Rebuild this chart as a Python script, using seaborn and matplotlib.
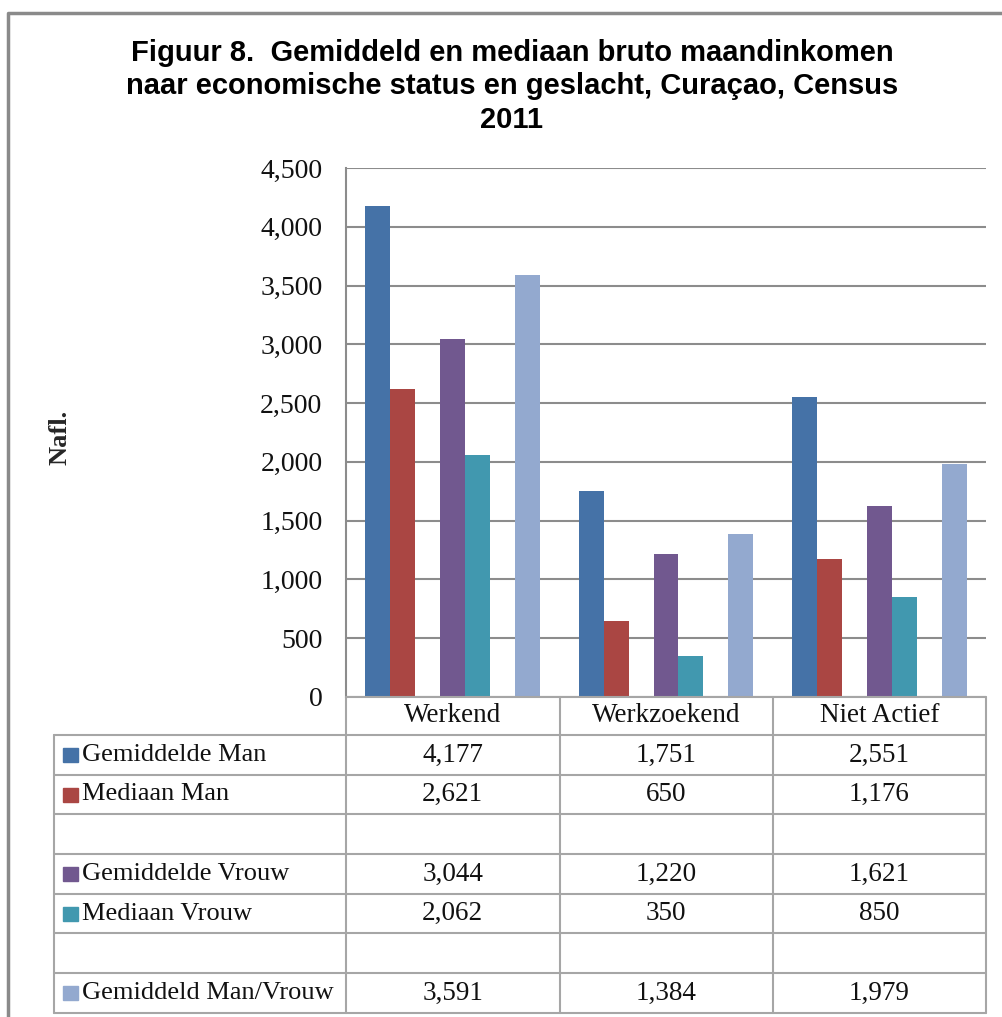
import matplotlib
matplotlib.use("Agg")
import matplotlib.pyplot as plt
import matplotlib.transforms as mtransforms
from matplotlib.lines import Line2D
from matplotlib.patches import Rectangle
import numpy as np
import pandas as pd
import seaborn as sns

# Data (Nafl., Census 2011)
categories = ["Werkend", "Werkzoekend", "Niet Actief"]
gem_man = [4177, 1751, 2551]
med_man = [2621, 650, 1176]
gem_vrouw = [3044, 1220, 1621]
med_vrouw = [2062, 350, 850]
gem_man_vrouw = [3591, 1384, 1979]

series_keys = ["gm", "mm", "b1", "gv", "mv", "b2", "gmv"]
series_labels = ["Gemiddelde Man", "Mediaan Man", "", "Gemiddelde Vrouw",
                 "Mediaan Vrouw", "", "Gemiddeld Man/Vrouw"]
series_values = [gem_man, med_man, None, gem_vrouw, med_vrouw, None, gem_man_vrouw]
colors = ["#4572A7", "#AA4643", "#FFFFFF", "#71588F", "#4198AF", "#FFFFFF", "#93A9CF"]

rows = []
for key, vals in zip(series_keys, series_values):
    for i, cat in enumerate(categories):
        rows.append({"status": cat, "serie": key, "value": vals[i] if vals else 0})
df = pd.DataFrame(rows)

W, H = 1002, 1017
sns.set_style("white")
plt.rcParams["font.family"] = ["Liberation Serif", "DejaVu Serif"]

fig = plt.figure(figsize=(W / 100, H / 100), dpi=100)


def fx(px):
    return px / W


def fy(py):
    return 1 - py / H


ax_l, ax_r, ax_t, ax_b = 346, 986, 168, 697
ax = fig.add_axes([fx(ax_l), fy(ax_b), fx(ax_r - ax_l), (ax_b - ax_t) / H])

sns.barplot(data=df, x="status", y="value", hue="serie", hue_order=series_keys,
            order=categories, palette=dict(zip(series_keys, colors)), saturation=1,
            errorbar=None, width=0.82, linewidth=0, legend=False, ax=ax, zorder=3)

ax.set_ylim(0, 4500)
ax.set_xlim(-0.5, len(categories) - 0.5)
ax.set_yticks(np.arange(0, 4501, 500))
ax.yaxis.set_major_formatter(matplotlib.ticker.FuncFormatter(lambda v, p: f"{int(v):,}"))
ax.tick_params(axis="y", length=0, pad=17, labelsize=20, labelcolor="#111111")
ax.set_xticks([])
ax.set_xlabel("")
ax.set_ylabel("")
grid_c = "#8c8c8c"
ax.grid(axis="y", color=grid_c, linewidth=1.5, zorder=0)
ax.set_axisbelow(True)
for s in ["top", "right", "bottom"]:
    ax.spines[s].set_visible(False)
ax.spines["left"].set_color(grid_c)
ax.spines["left"].set_linewidth(1.5)

# y label
fig.text(fx(60), fy(437), "Nafl.", rotation=90, ha="center", va="center",
         fontsize=19, fontweight="bold")

# title
fig.text(fx(512), fy(39), "Figuur 8.  Gemiddeld en mediaan bruto maandinkomen\n"
         "naar economische status en geslacht, Curaçao, Census\n2011",
         ha="center", va="top", fontsize=21, fontweight="bold", color="black",
         family=["Liberation Sans", "DejaVu Sans"], linespacing=1.25)

# data table below the axes
tab_c = "#a6a6a6"
row_lines = [697, 735, 775, 814, 854, 894, 933, 973, 1013]
col_lines = [54, 346, 560, 773, 986]


def hline(y, x0, x1):
    fig.add_artist(Line2D([fx(x0), fx(x1)], [fy(y), fy(y)], color=tab_c, lw=1.5))


def vline(x, y0, y1):
    fig.add_artist(Line2D([fx(x), fx(x)], [fy(y0), fy(y1)], color=tab_c, lw=1.5))


hline(row_lines[0], 346, 986)
for y in row_lines[1:]:
    hline(y, 54, 986)
vline(54, 735, 1013)
for x in col_lines[1:]:
    vline(x, 697, 1013)

trans = mtransforms.blended_transform_factory(ax.transData, fig.transFigure)
for i, cat in enumerate(categories):
    fig.text(i, fy((697 + 735) / 2), cat, transform=trans, ha="center", va="center",
             fontsize=19.5, color="#111111")

for r, (lab, vals, col) in enumerate(zip(series_labels, series_values, colors)):
    yc = fy((row_lines[r + 1] + row_lines[r + 2]) / 2)
    if vals is None:
        continue
    fig.add_artist(Rectangle((fx(63), yc - 7 / H), 15 / W, 14 / H, color=col))
    fig.text(fx(82), yc, lab, ha="left", va="center", fontsize=19, color="#111111")
    for i, v in enumerate(vals):
        fig.text(i, yc, f"{v:,}", transform=trans, ha="center", va="center",
                 fontsize=19.5, color="#111111")

# chart area border (left and top visible)
fig.add_artist(Line2D([fx(8), fx(8), fx(1010)], [fy(1020), fy(13), fy(13)],
                      color="#8a8a8a", lw=2.5))

fig.savefig("out.png", dpi=100)
